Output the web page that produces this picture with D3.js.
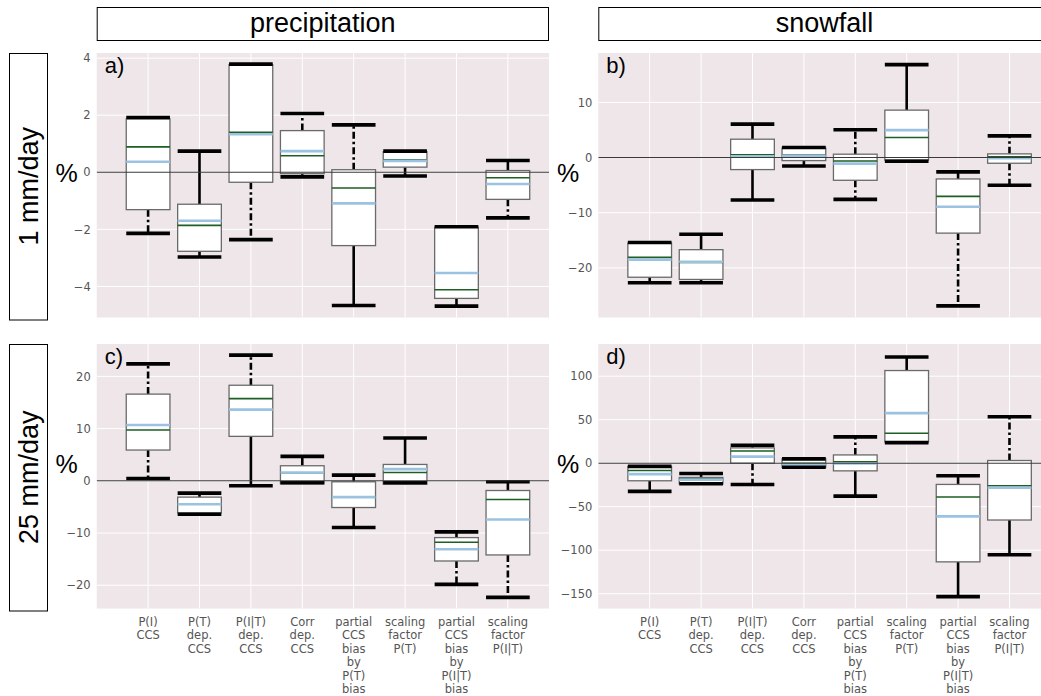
<!DOCTYPE html>
<html>
<head>
<meta charset="utf-8">
<script src="https://cdn.jsdelivr.net/npm/d3@7"></script>
<style>
  body { margin: 0; background: #fff; }
  svg { display: block; }
</style>
</head>
<body>
<svg id="fig" width="1041" height="696"></svg>
<script>
// Category labels (multi-line) shared by all four panels
const categories = [
  ["P(I)", "CCS"],
  ["P(T)", "dep.", "CCS"],
  ["P(I|T)", "dep.", "CCS"],
  ["Corr", "dep.", "CCS"],
  ["partial", "CCS", "bias", "by", "P(T)", "bias"],
  ["scaling", "factor", "P(T)"],
  ["partial", "CCS", "bias", "by", "P(I|T)", "bias"],
  ["scaling", "factor", "P(I|T)"]
];

const columnTitles = ["precipitation", "snowfall"];
const rowTitles = ["1 mm/day", "25 mm/day"];
const panelLetters = ["a)", "b)", "c)", "d)"];

// a) precipitation, 1 mm/day threshold
const precip1_lo     = [-2.14, -2.97, -2.36, -0.16, -4.67, -0.13, -4.69, -1.60];
const precip1_q1     = [-1.31, -2.77, -0.35, -0.05, -2.57,  0.18, -4.42, -0.95];
const precip1_median = [ 0.89, -1.86,  1.40,  0.58, -0.55,  0.44, -4.12, -0.19];
const precip1_mean   = [ 0.37, -1.70,  1.33,  0.74, -1.09,  0.40, -3.53, -0.41];
const precip1_q3     = [ 1.87, -1.12,  3.77,  1.46,  0.09,  0.72, -1.93,  0.06];
const precip1_hi     = [ 1.92,  0.74,  3.79,  2.06,  1.66,  0.74, -1.91,  0.41];
const precip1_loDash = [1, 0, 1, 0, 0, 0, 0, 1];
const precip1_hiDash = [0, 0, 0, 1, 1, 0, 0, 0];
const precip1_ticks  = [-4, -2, 0, 2, 4];

// b) snowfall, 1 mm/day threshold
const snow1_lo     = [-22.7, -22.7, -7.70, -1.52, -7.58, -0.67, -26.9, -5.03];
const snow1_q1     = [-21.7, -22.1, -2.18, -0.55, -4.12, -0.45, -13.7, -1.03];
const snow1_median = [-18.1, -19.0,  0.48,  0.45, -0.61,  3.64, -7.03,  0.12];
const snow1_mean   = [-18.5, -18.9,  0.24,  0.30, -1.09,  4.97, -8.91, -0.12];
const snow1_q3     = [-15.5, -16.7,  3.33,  1.75,  0.61,  8.60, -3.88,  0.67];
const snow1_hi     = [-15.4, -13.9,  6.06,  1.82,  5.03, 16.85, -2.60,  3.94];
const snow1_loDash = [0, 0, 0, 0, 1, 0, 1, 1];
const snow1_hiDash = [0, 0, 0, 0, 1, 0, 0, 1];
const snow1_ticks  = [-20, -10, 0, 10];

// c) precipitation, 25 mm/day threshold
const precip25_lo     = [ 0.45, -6.40, -0.96, -0.38, -8.96, -0.38, -19.83, -22.33];
const precip25_q1     = [ 5.89, -6.14,  8.51, -0.58, -5.12, -0.64, -15.36, -14.20];
const precip25_median = [ 9.72, -4.50, 15.74,  1.55, -3.10,  1.60, -11.77,  -3.58];
const precip25_mean   = [10.68, -4.48, 13.63,  1.60, -3.13,  2.24, -13.12,  -7.42];
const precip25_q3     = [16.60, -3.13, 18.30,  2.88, -0.19,  3.13, -10.88,  -1.86];
const precip25_hi     = [22.40, -2.37, 24.06,  4.67,  1.09,  8.19,  -9.79,  -0.19];
const precip25_loDash = [1, 0, 0, 0, 0, 0, 1, 1];
const precip25_hiDash = [1, 1, 1, 0, 0, 0, 0, 0];
const precip25_ticks  = [-20, -10, 0, 10, 20];

// d) snowfall, 25 mm/day threshold
const snow25_lo     = [-32.4, -23.7, -24.4, -4.6, -37.8,  23.7, -153.4, -105.3];
const snow25_q1     = [-20.2, -23.7,   0.0, -4.6,  -8.8,  24.4, -113.4,  -65.3];
const snow25_median = [ -8.4, -18.3,  14.1,  0.0,   1.5,  34.4,  -38.9,  -26.0];
const snow25_mean   = [-12.6, -19.1,   7.6, -1.5,  -0.4,  57.6,  -61.1,  -28.2];
const snow25_q3     = [ -3.8, -16.4,  17.6,  5.0,   9.5, 106.5,  -24.4,    3.1];
const snow25_hi     = [ -3.6, -11.8,  20.6,  5.0,  30.2, 122.1,  -14.5,   53.4];
const snow25_loDash = [0, 0, 1, 0, 0, 0, 0, 0];
const snow25_hiDash = [0, 0, 1, 0, 1, 0, 0, 1];
const snow25_ticks  = [-150, -100, -50, 0, 50, 100];

// y-axis extents of each panel
const precip1_ylim  = [-5.09, 4.18];
const snow1_ylim    = [-29.0, 18.96];
const precip25_ylim = [-24.46, 26.2];
const snow25_ylim   = [-167, 137];

function series(lo, q1, med, mean, q3, hi, loDash, hiDash) {
  return categories.map((c, i) => ({
    i: i + 1, lo: lo[i], q1: q1[i], median: med[i], mean: mean[i],
    q3: q3[i], hi: hi[i], loDash: !!loDash[i], hiDash: !!hiDash[i]
  }));
}

const layout = {
  colLeft: [96.7, 598.3], colWidth: 452.3,
  rowTop: [53, 344], rowHeight: 264.5
};

const panels = [
  { row: 0, col: 0, ylim: precip1_ylim, ticks: precip1_ticks,
    data: series(precip1_lo, precip1_q1, precip1_median, precip1_mean, precip1_q3, precip1_hi, precip1_loDash, precip1_hiDash) },
  { row: 0, col: 1, ylim: snow1_ylim, ticks: snow1_ticks,
    data: series(snow1_lo, snow1_q1, snow1_median, snow1_mean, snow1_q3, snow1_hi, snow1_loDash, snow1_hiDash) },
  { row: 1, col: 0, ylim: precip25_ylim, ticks: precip25_ticks,
    data: series(precip25_lo, precip25_q1, precip25_median, precip25_mean, precip25_q3, precip25_hi, precip25_loDash, precip25_hiDash) },
  { row: 1, col: 1, ylim: snow25_ylim, ticks: snow25_ticks,
    data: series(snow25_lo, snow25_q1, snow25_median, snow25_mean, snow25_q3, snow25_hi, snow25_loDash, snow25_hiDash) }
];

const svg = d3.select("#fig");
const sansTitle = "'Liberation Sans', Arial, sans-serif";
const sansTick = "'DejaVu Sans', sans-serif";
const colors = {
  bg: "#eee6e8", grid: "#ffffff", tick: "#555555",
  boxEdge: "#6a6a6a", median: "#1d5e22", mean: "#9cc2e2", zero: "#3a3a3a"
};
const dashPattern = "7,3,2.5,3";

// Column headers
columnTitles.forEach((t, c) => {
  const x0 = layout.colLeft[c];
  const w = layout.colWidth;
  svg.append("rect")
    .attr("x", x0 + 0.5).attr("y", 7.5).attr("width", w - 1).attr("height", 33)
    .attr("fill", "#fff").attr("stroke", "#000").attr("stroke-width", 1);
  svg.append("text")
    .attr("x", x0 + w / 2).attr("y", 32)
    .attr("text-anchor", "middle")
    .style("font-family", sansTitle).style("font-size", "27px")
    .text(t);
});

// Row headers
rowTitles.forEach((t, r) => {
  const y0 = layout.rowTop[r];
  const h = layout.rowHeight;
  svg.append("rect")
    .attr("x", 9.5).attr("y", y0 + 0.5).attr("width", 38).attr("height", h + 2)
    .attr("fill", "#fff").attr("stroke", "#000").attr("stroke-width", 1);
  svg.append("text")
    .attr("transform", `translate(${38},${y0 + h / 2 + 1}) rotate(-90)`)
    .attr("text-anchor", "middle")
    .style("font-family", sansTitle).style("font-size", "27px")
    .text(t);
});

panels.forEach((p, k) => {
  const left = layout.colLeft[p.col];
  const top = layout.rowTop[p.row];
  const W = layout.colWidth, H = layout.rowHeight;

  const x = d3.scaleLinear().domain([0, 8.8]).range([left, left + W]);
  const y = d3.scaleLinear().domain(p.ylim).range([top + H, top]);
  const bw = (x(1) - x(0)) * 0.85;

  const g = svg.append("g");
  const clipId = "clip" + k;
  g.append("clipPath").attr("id", clipId)
    .append("rect").attr("x", left).attr("y", top).attr("width", W).attr("height", H);

  g.append("rect").attr("x", left).attr("y", top).attr("width", W).attr("height", H)
    .attr("fill", colors.bg);

  const plot = g.append("g").attr("clip-path", `url(#${clipId})`);

  // grid
  plot.selectAll(".hgrid").data(p.ticks).join("line")
    .attr("x1", left).attr("x2", left + W)
    .attr("y1", d => y(d)).attr("y2", d => y(d))
    .attr("stroke", colors.grid).attr("stroke-width", 1);
  plot.selectAll(".vgrid").data(d3.range(1, 9)).join("line")
    .attr("x1", d => x(d)).attr("x2", d => x(d))
    .attr("y1", top).attr("y2", top + H)
    .attr("stroke", colors.grid).attr("stroke-width", 1);

  const box = plot.selectAll(".box").data(p.data).join("g");

  // whiskers
  box.append("line")
    .attr("x1", d => x(d.i)).attr("x2", d => x(d.i))
    .attr("y1", d => y(d.q3)).attr("y2", d => y(d.hi))
    .attr("stroke", "#000").attr("stroke-width", 2.6)
    .attr("stroke-dasharray", d => d.hiDash ? dashPattern : null);
  box.append("line")
    .attr("x1", d => x(d.i)).attr("x2", d => x(d.i))
    .attr("y1", d => y(d.q1)).attr("y2", d => y(d.lo))
    .attr("stroke", "#000").attr("stroke-width", 2.6)
    .attr("stroke-dasharray", d => d.loDash ? dashPattern : null);

  // boxes
  box.append("rect")
    .attr("x", d => x(d.i) - bw / 2).attr("width", bw)
    .attr("y", d => y(d.q3)).attr("height", d => Math.max(0.5, y(d.q1) - y(d.q3)))
    .attr("fill", "#fff").attr("stroke", colors.boxEdge).attr("stroke-width", 1.3);

  // median and mean
  box.append("line")
    .attr("x1", d => x(d.i) - bw / 2).attr("x2", d => x(d.i) + bw / 2)
    .attr("y1", d => y(d.median)).attr("y2", d => y(d.median))
    .attr("stroke", colors.median).attr("stroke-width", 1.6);
  box.append("line")
    .attr("x1", d => x(d.i) - bw / 2).attr("x2", d => x(d.i) + bw / 2)
    .attr("y1", d => y(d.mean)).attr("y2", d => y(d.mean))
    .attr("stroke", colors.mean).attr("stroke-width", 2.6);

  // zero reference line
  plot.append("line")
    .attr("x1", left).attr("x2", left + W)
    .attr("y1", y(0)).attr("y2", y(0))
    .attr("stroke", colors.zero).attr("stroke-width", 1.1);

  // caps
  ["hi", "lo"].forEach(key => {
    box.append("line")
      .attr("x1", d => x(d.i) - bw / 2).attr("x2", d => x(d.i) + bw / 2)
      .attr("y1", d => y(d[key])).attr("y2", d => y(d[key]))
      .attr("stroke", "#000").attr("stroke-width", 3.6);
  });

  // y axis
  const ax = g.append("g").attr("transform", `translate(${left},0)`)
    .call(d3.axisLeft(y).tickValues(p.ticks).tickSize(0).tickPadding(6));
  ax.select(".domain").remove();
  ax.selectAll("text")
    .style("font-family", sansTick).style("font-size", "11.5px")
    .attr("fill", colors.tick);

  // unit label
  g.append("text")
    .attr("x", left - 19).attr("y", top + H / 2 - 3)
    .attr("text-anchor", "end")
    .style("font-family", sansTitle).style("font-size", "25px")
    .text("%");

  // panel letter
  g.append("text")
    .attr("x", left + 8).attr("y", top + 20)
    .style("font-family", sansTitle).style("font-size", "22px")
    .text(panelLetters[k]);

  // category labels under the bottom row
  if (p.row === 1) {
    const lab = g.selectAll(".xlab").data(categories).join("text")
      .attr("text-anchor", "middle")
      .attr("fill", colors.tick)
      .style("font-family", sansTick).style("font-size", "11.5px");
    lab.each(function (lines, i) {
      d3.select(this).selectAll("tspan").data(lines).join("tspan")
        .attr("x", x(i + 1))
        .attr("y", (d, j) => top + H + 17.5 + j * 13.4)
        .text(d => d);
    });
  }
});
</script>
</body>
</html>
